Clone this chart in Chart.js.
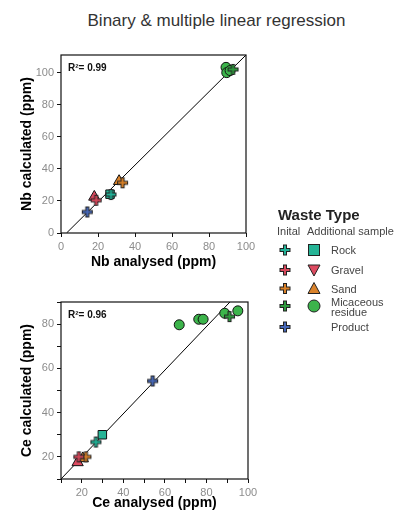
<!DOCTYPE html>
<html><head><meta charset="utf-8">
<script src="https://cdn.jsdelivr.net/npm/chart.js@4"></script>
<style>
body{margin:0;width:403px;height:517px;position:relative;background:#fff;font-family:"Liberation Sans",Arial,sans-serif;overflow:hidden}
#title{position:absolute;left:0;width:433px;top:11px;line-height:19px;text-align:center;font-size:17px;color:#333;white-space:nowrap}
canvas{position:absolute;left:0}
svg{position:absolute;left:0;top:0}
</style></head><body>
<div id="title">Binary &amp; multiple linear regression</div>
<canvas id="nb" width="262" height="230" style="top:45px"></canvas>
<canvas id="ce" width="262" height="227" style="top:290px"></canvas>
<svg id="legend" width="403" height="517"></svg>
<script>
// ---- data ----
const wasteTypes = ['Rock', 'Gravel', 'Sand', 'Micaceous residue', 'Product'];
// Initial samples (crosses), order as wasteTypes
const nbInitialX = [27, 19, 33.3, 93, 14.2];
const nbInitialY = [24, 20.4, 31.3, 102, 13.1];
const ceInitialX = [26.8, 18.6, 22, 91.1, 54.1];
const ceInitialY = [26.7, 20, 20, 83.4, 54.3];
// Additional samples
const nbRockAdd = [[26.5, 24.2]];
const nbGravelAdd = [[18, 22.5]];
const nbSandAdd = [[31.4, 32.3]];
const nbMicaAdd = [[89.2, 103.3], [89.6, 100], [91.4, 101.3]];
const ceRockAdd = [[29.9, 30]];
const ceGravelAdd = [[18, 17.5]];
const ceSandAdd = [[20.5, 19.3]];
const ceMicaAdd = [[66.9, 79.7], [76.3, 82.2], [78.4, 82.2], [88.8, 84.9], [95.1, 86]];
// Regression lines
const nbFit = [[3, 0], [100, 111]];
const ceFit = [[10, 10], [91.3, 90]];
const nbR2 = 'R²= 0.99';
const ceR2 = 'R²= 0.96';
// Ticks
const nbTicks = [0, 20, 40, 60, 80, 100];
const ceTicks = [10, 20, 30, 40, 50, 60, 70, 80, 90, 100];
const ceLabelled = [20, 40, 60, 80, 100];

// ---- styles ----
const FAM = '"Liberation Sans", Arial, sans-serif';
const crossColors = ['#22b398', '#d8485b', '#d98128', '#2f9a3e', '#4768b8'];
const addColors = ['#26b496', '#dd4a60', '#d9822b', '#3cb44b'];
const addStyles = ['rect', 'triangle', 'triangle', 'circle'];
const addRadius = [6, 6.5, 6.5, 5];

function crossImg(color) {
  const c = document.createElement('canvas');
  c.width = c.height = 13;
  const g = c.getContext('2d');
  g.strokeStyle = '#222'; g.lineWidth = 4;
  g.beginPath(); g.moveTo(1, 6.5); g.lineTo(12, 6.5); g.moveTo(6.5, 1); g.lineTo(6.5, 12); g.stroke();
  g.strokeStyle = color; g.lineWidth = 2;
  g.beginPath(); g.moveTo(2, 6.5); g.lineTo(11, 6.5); g.moveTo(6.5, 2); g.lineTo(6.5, 11); g.stroke();
  return c;
}
const crossImgs = crossColors.map(crossImg);

function buildDatasets(ix, iy, adds, fit) {
  const ds = [{
    type: 'line', data: fit.map(([x, y]) => ({x, y})), borderColor: '#000', borderWidth: 1,
    pointRadius: 0, showLine: true, fill: false, order: 10
  }];
  adds.forEach((pts, i) => ds.push({
    data: pts.map(([x, y]) => ({x, y})), pointStyle: addStyles[i], pointRadius: addRadius[i],
    backgroundColor: addColors[i], borderColor: '#111', borderWidth: 1, order: 2
  }));
  ix.forEach((x, i) => ds.push({
    data: [{x, y: iy[i]}], pointStyle: crossImgs[i], pointRadius: 6, order: 1
  }));
  return ds;
}

const frame = {
  id: 'frame',
  afterDatasetsDraw(chart, args, opts) {
    const {ctx, chartArea: a} = chart;
    ctx.save();
    ctx.strokeStyle = '#111'; ctx.lineWidth = 1.2;
    ctx.strokeRect(a.left, a.top, a.right - a.left, a.bottom - a.top);
    ctx.fillStyle = '#111';
    ctx.font = 'bold 10px ' + FAM;
    ctx.textBaseline = 'middle';
    ctx.fillText(opts.text, a.left + 7, a.top + 13);
    ctx.restore();
  }
};

function axis(min, max, ticks, labelled, title, fitSize, horizontal) {
  return {
    type: 'linear', min, max,
    afterBuildTicks: s => { s.ticks = ticks.map(v => ({value: v})); },
    afterFit: s => { if (horizontal) s.height = fitSize; else s.width = fitSize; },
    ticks: {
      color: '#8c8c8c', font: {size: 11, family: FAM}, padding: 3, autoSkip: false, maxRotation: 0,
      callback: v => labelled.includes(v) ? String(v) : ''
    },
    grid: {drawOnChartArea: false, drawTicks: true, tickLength: 4, tickColor: '#111', tickWidth: 1},
    border: {display: false},
    title: {display: true, text: title, color: '#000', font: {size: 14, weight: 'bold', family: FAM}, padding: {top: 4, bottom: 4}}
  };
}

function makeChart(id, datasets, xs, ys, r2, pad) {
  return new Chart(document.getElementById(id), {
    type: 'scatter',
    data: {datasets},
    options: {
      responsive: false, animation: false, devicePixelRatio: 1,
      layout: {padding: pad},
      plugins: {legend: {display: false}, tooltip: {enabled: false}, frame: {text: r2}},
      scales: {x: xs, y: ys}
    },
    plugins: [frame]
  });
}

makeChart('nb',
  buildDatasets(nbInitialX, nbInitialY, [nbRockAdd, nbGravelAdd, nbSandAdd, nbMicaAdd], nbFit),
  axis(0, 100, nbTicks, nbTicks, 'Nb analysed (ppm)', 42, true),
  axis(0, 111, nbTicks, nbTicks, 'Nb calculated (ppm)', 46, false),
  nbR2, {left: 15, right: 16, top: 10, bottom: 0});

makeChart('ce',
  buildDatasets(ceInitialX, ceInitialY, [ceRockAdd, ceGravelAdd, ceSandAdd, ceMicaAdd], ceFit),
  axis(10, 100, ceTicks, ceLabelled, 'Ce analysed (ppm)', 37, true),
  axis(10, 90, ceTicks.filter(v => v <= 90), ceLabelled, 'Ce calculated (ppm)', 46, false),
  ceR2, {left: 15, right: 14, top: 12, bottom: 1});

// ---- legend (Waste Type) ----
const svgNS = 'http://www.w3.org/2000/svg';
const svg = document.getElementById('legend');
function el(tag, attrs, text) {
  const e = document.createElementNS(svgNS, tag);
  for (const k in attrs) e.setAttribute(k, attrs[k]);
  if (text) e.textContent = text;
  svg.appendChild(e);
  return e;
}
const legendRowsY = [250, 270, 288.5, 306, 327];
el('text', {x: 278, y: 220, 'font-family': FAM, 'font-size': 15, 'font-weight': 'bold', fill: '#222'}, 'Waste Type');
el('text', {x: 277, y: 234.5, 'font-family': FAM, 'font-size': 11, fill: '#444'}, 'Inital');
el('text', {x: 307, y: 234.5, 'font-family': FAM, 'font-size': 11, fill: '#444'}, 'Additional sample');
wasteTypes.forEach((name, i) => {
  const y = legendRowsY[i], cx = 285;
  const d = `M${cx - 5.5},${y}H${cx + 5.5}M${cx},${y - 5.5}V${y + 5.5}`;
  el('path', {d, stroke: '#222', 'stroke-width': 4, fill: 'none'});
  const d2 = `M${cx - 4.5},${y}H${cx + 4.5}M${cx},${y - 4.5}V${y + 4.5}`;
  el('path', {d: d2, stroke: crossColors[i], 'stroke-width': 2, fill: 'none'});
  const sx = 314;
  const common = {fill: addColors[i], stroke: '#222', 'stroke-width': 1};
  if (i === 0) el('rect', Object.assign({x: sx - 5.5, y: y - 5.5, width: 11, height: 11}, common));
  if (i === 1) el('polygon', Object.assign({points: `${sx - 6},${y - 5} ${sx + 6},${y - 5} ${sx},${y + 6}`}, common));
  if (i === 2) el('polygon', Object.assign({points: `${sx - 6},${y + 5} ${sx + 6},${y + 5} ${sx},${y - 6}`}, common));
  if (i === 3) el('circle', Object.assign({cx: sx, cy: y, r: 6}, common));
  if (i === 3) {
    el('text', {x: 331, y: y - 0.5, 'font-family': FAM, 'font-size': 11, fill: '#444'}, 'Micaceous');
    el('text', {x: 331, y: y + 9.5, 'font-family': FAM, 'font-size': 11, fill: '#444'}, 'residue');
  } else {
    el('text', {x: 331, y: y + 4, 'font-family': FAM, 'font-size': 11, fill: '#444'}, name);
  }
});
</script>
</body></html>
